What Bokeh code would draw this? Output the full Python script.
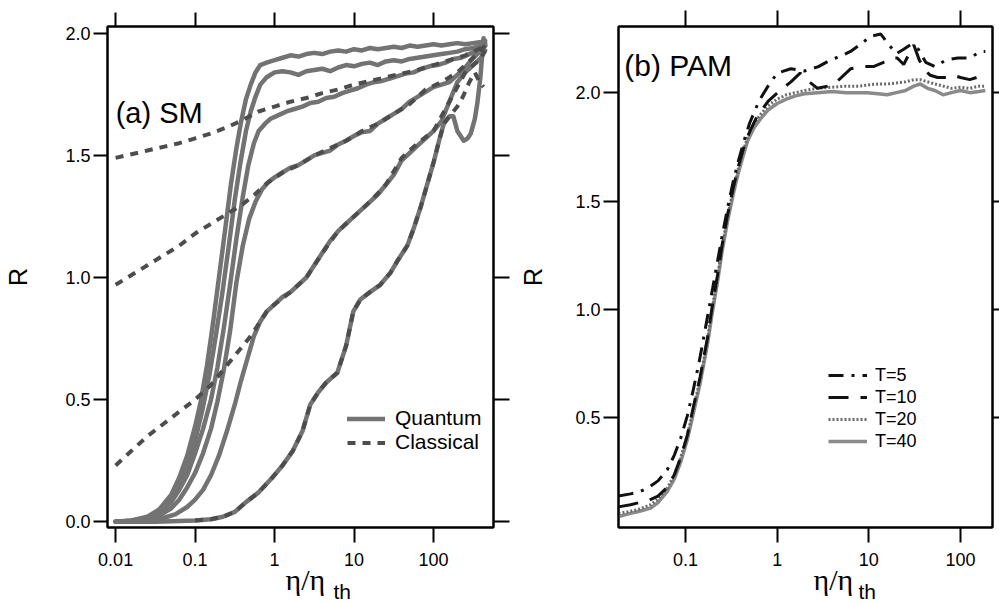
import numpy as np
from bokeh.plotting import figure
from bokeh.layouts import row
from bokeh.models import (Range1d, FixedTicker, CustomJSTickFormatter, LogAxis, LinearAxis,
                          Legend, LegendItem, Label, Title, CustomLabelingPolicy)
from bokeh.embed import file_html
from bokeh.resources import INLINE

# ---------------- data: panel (a) SM, x given as log10(eta/eta_th) ----------------
q1_log = [-2.0,-1.8,-1.6,-1.45,-1.3,-1.2,-1.1,-1.0,-0.93,-0.85,-0.78,-0.7,-0.62,-0.55,-0.48,-0.42,-0.36,-0.3,-0.24,-0.18,-0.1,0.0,0.1,0.2,0.3,0.4,0.5,0.6,0.7,0.8,0.9,1.0,1.1,1.2,1.3,1.4,1.5,1.6,1.7,1.8,1.9,2.0,2.1,2.2,2.3,2.4,2.5,2.6,2.65]
q1_r   = [0.0,0.005,0.02,0.05,0.11,0.18,0.27,0.39,0.49,0.64,0.8,1.0,1.2,1.38,1.53,1.64,1.73,1.79,1.84,1.87,1.88,1.89,1.9,1.91,1.905,1.915,1.92,1.915,1.925,1.93,1.925,1.935,1.93,1.94,1.935,1.94,1.945,1.94,1.95,1.945,1.95,1.955,1.95,1.955,1.96,1.955,1.96,1.965,1.97]

q2_log = [-2.0,-1.8,-1.6,-1.45,-1.3,-1.2,-1.1,-1.0,-0.9,-0.82,-0.74,-0.66,-0.58,-0.5,-0.43,-0.36,-0.3,-0.24,-0.18,-0.1,0.0,0.1,0.2,0.3,0.4,0.5,0.6,0.7,0.8,0.9,1.0,1.1,1.2,1.3,1.4,1.5,1.6,1.7,1.8,1.9,2.0,2.1,2.2,2.3,2.4,2.5,2.6,2.65]
q2_r   = [0.0,0.004,0.016,0.04,0.09,0.15,0.22,0.33,0.47,0.6,0.76,0.93,1.12,1.32,1.47,1.6,1.68,1.74,1.79,1.82,1.84,1.845,1.84,1.83,1.845,1.85,1.855,1.845,1.86,1.87,1.865,1.875,1.88,1.87,1.885,1.89,1.885,1.895,1.9,1.905,1.91,1.915,1.92,1.925,1.935,1.94,1.95,1.96]

q3_log = [-2.0,-1.8,-1.6,-1.45,-1.3,-1.2,-1.1,-1.0,-0.9,-0.8,-0.72,-0.64,-0.56,-0.48,-0.4,-0.33,-0.26,-0.2,-0.12,-0.05,0.05,0.15,0.25,0.35,0.45,0.55,0.65,0.75,0.85,0.95,1.05,1.15,1.25,1.35,1.45,1.55,1.65,1.75,1.85,1.95,2.05,2.15,2.25,2.35,2.45,2.55,2.65]
q3_r   = [0.0,0.004,0.014,0.035,0.08,0.13,0.19,0.28,0.38,0.5,0.63,0.79,0.97,1.16,1.33,1.46,1.55,1.6,1.63,1.65,1.665,1.68,1.69,1.7,1.715,1.72,1.735,1.74,1.755,1.765,1.775,1.79,1.8,1.805,1.815,1.825,1.835,1.84,1.855,1.865,1.87,1.88,1.895,1.9,1.915,1.93,1.95]

q4_log = [-2.0,-1.8,-1.6,-1.45,-1.3,-1.2,-1.1,-1.0,-0.9,-0.8,-0.72,-0.64,-0.56,-0.48,-0.4,-0.32,-0.24,-0.16,-0.08,0.0,0.1,0.2,0.3,0.4,0.5,0.6,0.7,0.8,0.9,1.0,1.1,1.2,1.3,1.4,1.5,1.6,1.7,1.8,1.9,2.0,2.1,2.2,2.3,2.4,2.5,2.6,2.65]
q4_r   = [0.0,0.003,0.01,0.025,0.055,0.09,0.14,0.2,0.28,0.38,0.49,0.62,0.78,0.98,1.13,1.24,1.31,1.36,1.39,1.41,1.43,1.45,1.46,1.48,1.5,1.51,1.52,1.545,1.56,1.58,1.595,1.6,1.63,1.65,1.67,1.69,1.72,1.74,1.76,1.78,1.79,1.8,1.83,1.86,1.9,1.93,1.95]

q5_log = [-2.0,-1.8,-1.6,-1.4,-1.25,-1.1,-1.0,-0.9,-0.8,-0.7,-0.6,-0.5,-0.42,-0.34,-0.26,-0.18,-0.1,0.0,0.1,0.2,0.3,0.4,0.5,0.6,0.7,0.8,0.9,1.0,1.1,1.2,1.3,1.4,1.5,1.6,1.7,1.8,1.9,2.0,2.1,2.2,2.3,2.4,2.5,2.6,2.65]
q5_r   = [0.0,0.002,0.006,0.015,0.03,0.06,0.09,0.13,0.19,0.27,0.37,0.48,0.58,0.67,0.76,0.82,0.86,0.89,0.92,0.94,0.97,1.0,1.05,1.1,1.15,1.19,1.22,1.25,1.28,1.31,1.34,1.38,1.42,1.48,1.51,1.54,1.57,1.6,1.64,1.72,1.8,1.84,1.87,1.9,1.93]

q6_log = [-2.0,-1.5,-1.0,-0.8,-0.65,-0.5,-0.36,-0.2,-0.03,0.1,0.23,0.35,0.45,0.55,0.65,0.79,0.9,0.99,1.08,1.2,1.33,1.46,1.55,1.67,1.75,1.84,1.92,2.0,2.07,2.13,2.2,2.25,2.3,2.38,2.43,2.47,2.52,2.55,2.59,2.63]
q6_r   = [0.0,0.0,0.005,0.01,0.02,0.04,0.08,0.12,0.18,0.23,0.29,0.37,0.48,0.53,0.57,0.61,0.72,0.86,0.91,0.94,0.97,1.02,1.07,1.13,1.2,1.29,1.38,1.47,1.56,1.63,1.66,1.66,1.6,1.56,1.57,1.59,1.65,1.71,1.82,1.98]

c1_log = [-2.0,-1.8,-1.6,-1.4,-1.2,-1.0,-0.8,-0.6,-0.4,-0.2,0.0,0.2,0.4,0.6,0.8,1.0,1.2,1.4,1.6,1.8,2.0,2.2,2.4,2.6,2.65]
c1_r   = [1.49,1.505,1.52,1.535,1.55,1.57,1.59,1.615,1.645,1.68,1.7,1.72,1.735,1.755,1.77,1.79,1.805,1.82,1.835,1.85,1.87,1.89,1.91,1.94,1.95]

c2_log = [-2.0,-1.8,-1.6,-1.4,-1.2,-1.0,-0.8,-0.6,-0.4,-0.25,-0.1,0.1,0.3,0.5,0.7,0.9,1.1,1.3,1.5,1.7,1.9,2.1,2.3,2.5,2.65]
c2_r   = [0.97,1.01,1.05,1.09,1.13,1.18,1.22,1.26,1.3,1.34,1.385,1.43,1.46,1.5,1.53,1.56,1.6,1.63,1.67,1.71,1.77,1.8,1.84,1.9,1.95]

c3_log = [-2.0,-1.8,-1.6,-1.4,-1.2,-1.0,-0.8,-0.6,-0.45,-0.3,-0.18,-0.1,0.0,0.2,0.4,0.6,0.8,1.0,1.2,1.4,1.6,1.8,2.0,2.2,2.4,2.6,2.65]
c3_r   = [0.23,0.29,0.35,0.4,0.45,0.5,0.56,0.64,0.7,0.76,0.82,0.86,0.89,0.94,1.0,1.1,1.19,1.25,1.31,1.38,1.49,1.55,1.6,1.72,1.84,1.9,1.93]

c4_log = [-1.0,-0.8,-0.65,-0.5,-0.36,-0.2,-0.03,0.1,0.23,0.35,0.45,0.55,0.65,0.79,0.9,0.99,1.08,1.2,1.33,1.46,1.55,1.67,1.75,1.84,1.92,2.0,2.07,2.13,2.2,2.3,2.37,2.45,2.52,2.58,2.63]
c4_r   = [0.005,0.01,0.02,0.04,0.08,0.12,0.18,0.23,0.29,0.37,0.48,0.53,0.57,0.61,0.72,0.86,0.91,0.94,0.97,1.02,1.07,1.13,1.2,1.29,1.38,1.47,1.56,1.63,1.66,1.7,1.74,1.8,1.84,1.8,1.78]

a_xticks = [0.01, 0.1, 1, 10, 100]
a_yticks = [0.0, 0.5, 1.0, 1.5, 2.0]

# ---------------- data: panel (b) PAM ----------------
t40_log = [-1.73,-1.6,-1.5,-1.38,-1.3,-1.2,-1.12,-1.05,-0.98,-0.92,-0.84,-0.76,-0.71,-0.65,-0.6,-0.54,-0.48,-0.43,-0.37,-0.32,-0.25,-0.18,-0.1,0.0,0.1,0.2,0.3,0.44,0.6,0.75,0.9,0.98,1.1,1.2,1.3,1.4,1.49,1.56,1.64,1.72,1.81,1.9,2.0,2.1,2.2,2.27]
t40_r   = [0.045,0.06,0.07,0.085,0.11,0.16,0.22,0.3,0.4,0.51,0.66,0.84,0.98,1.13,1.27,1.41,1.53,1.62,1.71,1.78,1.84,1.88,1.92,1.95,1.97,1.985,1.995,2.0,2.005,2.0,2.0,2.0,1.995,1.99,2.0,2.01,2.03,2.04,2.02,2.01,1.99,2.0,2.01,2.0,2.005,2.01]

t20_log = t40_log
t20_r   = [0.06,0.07,0.08,0.1,0.125,0.175,0.24,0.32,0.42,0.53,0.68,0.86,1.0,1.15,1.29,1.43,1.55,1.64,1.73,1.8,1.86,1.9,1.94,1.97,1.99,2.0,2.01,2.02,2.025,2.03,2.03,2.035,2.04,2.04,2.045,2.05,2.06,2.06,2.05,2.04,2.03,2.02,2.025,2.02,2.03,2.03]

t10_log = [-1.73,-1.6,-1.5,-1.4,-1.3,-1.2,-1.12,-1.05,-0.98,-0.92,-0.84,-0.76,-0.71,-0.65,-0.6,-0.54,-0.48,-0.43,-0.37,-0.3,-0.22,-0.1,0.03,0.15,0.25,0.35,0.44,0.55,0.65,0.8,0.95,1.05,1.16,1.25,1.31,1.38,1.44,1.49,1.55,1.62,1.67,1.75,1.86,1.92,2.0,2.1,2.25]
t10_r   = [0.09,0.1,0.11,0.12,0.14,0.18,0.24,0.32,0.42,0.54,0.69,0.87,1.01,1.16,1.3,1.44,1.56,1.65,1.74,1.82,1.89,1.96,2.01,2.05,2.09,2.05,2.02,2.03,2.05,2.11,2.12,2.12,2.14,2.16,2.16,2.13,2.18,2.22,2.15,2.1,2.08,2.07,2.07,2.08,2.07,2.06,2.08]

t5_log = [-1.73,-1.6,-1.5,-1.4,-1.3,-1.2,-1.12,-1.05,-0.98,-0.92,-0.85,-0.78,-0.72,-0.66,-0.6,-0.54,-0.48,-0.42,-0.36,-0.3,-0.2,-0.1,0.0,0.15,0.3,0.45,0.58,0.7,0.8,0.9,1.02,1.13,1.22,1.3,1.38,1.45,1.54,1.62,1.72,1.84,1.97,2.1,2.22,2.27]
t5_r   = [0.14,0.15,0.16,0.18,0.21,0.26,0.33,0.41,0.51,0.62,0.76,0.92,1.06,1.2,1.34,1.47,1.59,1.69,1.78,1.86,1.96,2.03,2.09,2.11,2.1,2.12,2.15,2.17,2.19,2.22,2.26,2.27,2.22,2.18,2.2,2.22,2.2,2.14,2.12,2.15,2.16,2.16,2.19,2.19]

b_xticks = [0.1, 1, 10, 100]
b_yticks = [0.5, 1.0, 1.5, 2.0]

FONT = "Liberation Sans"
SERIF = "Liberation Serif"
xfmt = CustomJSTickFormatter(code="return String(tick);")
yfmt = CustomJSTickFormatter(code="return tick.toFixed(1);")
no_labels = CustomLabelingPolicy(code="for (const i of indices) { indices.unset(i); } return indices;")


def X(lg):
    return 10 ** np.asarray(lg, dtype=float)


def style_axis(ax, ticks, fmt, out, labels=True, standoff=4):
    ax.ticker = FixedTicker(ticks=ticks)
    ax.formatter = fmt
    ax.axis_line_width = 2
    ax.axis_line_color = "black"
    ax.major_tick_line_width = 2
    ax.major_tick_line_color = "black"
    ax.major_tick_out = out
    ax.major_tick_in = 0
    ax.minor_tick_line_color = None
    if labels:
        ax.major_label_text_font = FONT
        ax.major_label_text_font_size = "18px"
        ax.major_label_text_color = "black"
        ax.major_label_standoff = standoff
    else:
        ax.major_label_policy = no_labels
        ax.major_label_text_font_size = "0px"
        ax.major_label_standoff = 0


def ylabel(ax, standoff):
    ax.axis_label = "R"
    ax.axis_label_text_font = FONT
    ax.axis_label_text_font_size = "25px"
    ax.axis_label_text_font_style = "normal"
    ax.axis_label_text_color = "black"
    ax.axis_label_standoff = standoff


def xlabel(p, off_main, off_sub):
    t1 = Title(text="η/η", align="left", offset=off_main, text_font=SERIF,
               text_font_size="30px", text_font_style="normal", text_color="black", standoff=-15)
    t2 = Title(text="th", align="left", offset=off_sub, text_font=FONT,
               text_font_size="21px", text_font_style="normal", text_color="black", standoff=-22)
    p.add_layout(t1, "below")
    p.add_layout(t2, "below")


def make_fig(width, xr, yr, bl, br, bt, bb):
    p = figure(width=width, height=604, x_axis_type="log",
               x_range=Range1d(*xr), y_range=Range1d(*yr),
               output_backend="svg", toolbar_location=None,
               min_border_left=bl, min_border_right=br,
               min_border_top=bt, min_border_bottom=bb)
    p.xgrid.visible = False
    p.ygrid.visible = False
    p.outline_line_color = "black"
    p.outline_line_width = 2
    p.background_fill_color = "white"
    p.border_fill_color = "white"
    return p


# ---------------- panel (a) ----------------
pa = make_fig(510, (0.0079, 569), (-0.024, 2.028), 107, 17, 20, 76)
style_axis(pa.xaxis[0], a_xticks, xfmt, 15, True, 10)
style_axis(pa.yaxis[0], a_yticks, yfmt, 14, True, 3)
ylabel(pa.yaxis[0], 30)
top_a = LogAxis()
style_axis(top_a, a_xticks, xfmt, 14, False)
pa.add_layout(top_a, "above")
right_a = LinearAxis()
style_axis(right_a, a_yticks, yfmt, 16, False)
pa.add_layout(right_a, "right")
xlabel(pa, 178, 226)

QCOL = "#737373"
CCOL = "#4d4d4d"
qr = None
for lg, rv in [(q1_log, q1_r), (q2_log, q2_r), (q3_log, q3_r), (q4_log, q4_r), (q5_log, q5_r), (q6_log, q6_r)]:
    r = pa.line(X(lg), rv, line_color=QCOL, line_width=4.5, line_join="round", line_cap="round")
    if qr is None:
        qr = r
cr = None
for lg, rv in [(c1_log, c1_r), (c2_log, c2_r), (c3_log, c3_r), (c4_log, c4_r)]:
    r = pa.line(X(lg), rv, line_color=CCOL, line_width=4, line_dash="8 7")
    if cr is None:
        cr = r

leg_a = Legend(items=[LegendItem(label="Quantum", renderers=[qr]),
                      LegendItem(label="Classical", renderers=[cr])],
               location=(240, 73), padding=0, margin=0, spacing=0,
               glyph_width=38, glyph_height=23, label_height=23, label_standoff=10,
               label_text_font=FONT, label_text_font_size="21px", label_text_color="black",
               background_fill_alpha=0, border_line_color=None)
pa.add_layout(leg_a, "center")

pa.add_layout(Label(x=0.01, y=1.675, text="(a) SM", text_font=FONT, text_font_size="29px",
                    text_color="black", text_baseline="middle", text_align="left"))

# ---------------- panel (b) ----------------
pb = make_fig(489, (0.0186, 223), (-0.005, 2.305), 108, 7, 26, 77)
style_axis(pb.xaxis[0], b_xticks, xfmt, 15, True, 10)
style_axis(pb.yaxis[0], b_yticks, yfmt, 15, True, 3)
ylabel(pb.yaxis[0], 25)
top_b = LogAxis()
style_axis(top_b, b_xticks, xfmt, 16, False)
pb.add_layout(top_b, "above")
right_b = LinearAxis()
style_axis(right_b, b_yticks, yfmt, 7, False)
pb.add_layout(right_b, "right")
xlabel(pb, 195, 240)

r40 = pb.line(X(t40_log), t40_r, line_color="#8a8a8a", line_width=3.5, line_join="round")
r20 = pb.line(X(t20_log), t20_r, line_color="#6a6a6a", line_width=3, line_dash="2 2")
r10 = pb.line(X(t10_log), t10_r, line_color="#111111", line_width=3, line_dash="20 12")
r5 = pb.line(X(t5_log), t5_r, line_color="#111111", line_width=3, line_dash="15 8 3 8")

leg_b = Legend(items=[LegendItem(label="T=5", renderers=[r5]),
                      LegendItem(label="T=10", renderers=[r10]),
                      LegendItem(label="T=20", renderers=[r20]),
                      LegendItem(label="T=40", renderers=[r40])],
               location=(210, 75), padding=0, margin=0, spacing=0,
               glyph_width=39, glyph_height=22, label_height=22, label_standoff=8,
               label_text_font=FONT, label_text_font_size="18px", label_text_color="black",
               background_fill_alpha=0, border_line_color=None)
pb.add_layout(leg_b, "center")

pb.add_layout(Label(x=0.0215, y=2.123, text="(b) PAM", text_font=FONT, text_font_size="30px",
                    text_color="black", text_baseline="middle", text_align="left"))

layout = row(pa, pb)
open("out.html", "w").write(file_html(layout, INLINE))
